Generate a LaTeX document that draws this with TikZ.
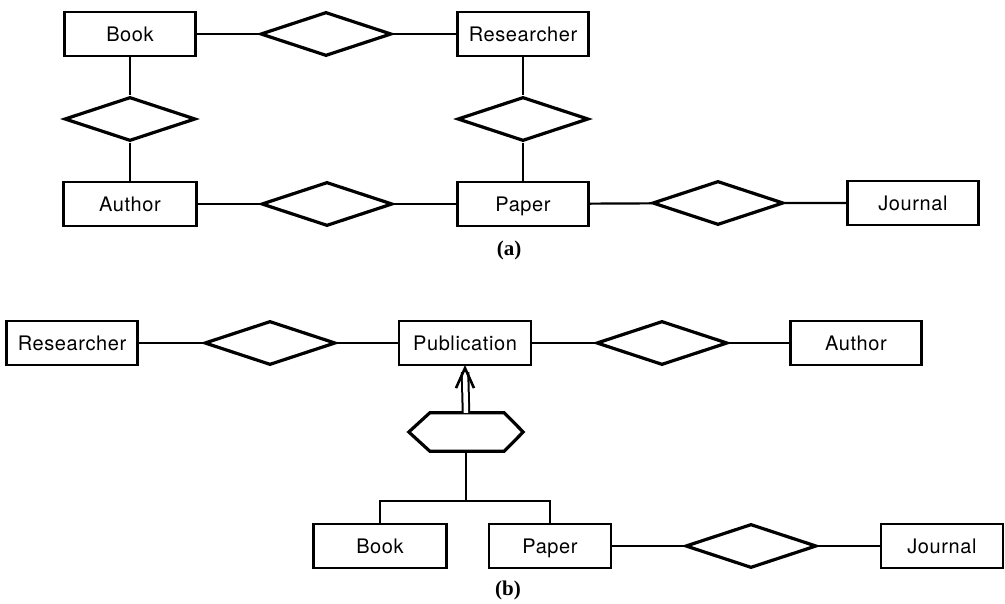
\documentclass[tikz,border=0pt]{standalone}
\usepackage{fontspec}
\setsansfont{TeX Gyre Heros}[LetterSpace=3]
\newfontfamily\capfont{Liberation Serif}
\usetikzlibrary{shapes.geometric}

\begin{document}
\begin{tikzpicture}[x=1pt,y=-1pt,
	entity/.style={draw,line width=2.2pt,minimum width=131pt,minimum height=44pt,inner sep=0pt,
		text height=14.4pt,text depth=0pt,font=\sffamily\fontsize{20}{24}\selectfont},
	rel/.style={draw,diamond,line width=3.2pt,minimum width=131pt,minimum height=44pt,inner sep=0pt},
	link/.style={line width=2.2pt},
	capstyle/.style={font=\capfont\bfseries\fontsize{21}{24}\selectfont},
]
\useasboundingbox (0,0) rectangle (1005,604);

%Part (a)
\node [entity]  (bookA)at (130,34) {Book};
\node [rel]  (relBR)at (326,34) {};
\node [entity]  (resA)at (523,34) {Researcher};

\node [rel]  (relBA)at (130,119) {};
\node [rel]  (relRP)at (523,119) {};

\node [entity, minimum width=133pt]  (authA)at (130,204) {Author};
\node [rel]  (relAP)at (327,204) {};
\node [entity]  (papA)at (523,204) {Paper};
\node [rel]  (relPJ)at (718,203) {};
\node [entity]  (jourA)at (913,203) {Journal};

\draw[link] (bookA) -- (relBR) -- (resA);
\draw[link] (bookA) -- (relBA) -- (authA);
\draw[link] (resA) -- (relRP) -- (papA);
\draw[link] (authA) -- (relAP) -- (papA);
\draw[link] (papA) -- (relPJ) -- (jourA);

\node [capstyle]  (capA)at (509,250) {(a)};


%Part (b)
\node [entity]  (resB)at (72,343) {Researcher};
\node [rel]  (relRPub)at (270,343) {};
\node [entity, minimum width=132pt]  (pub)at (465,343) {Publication};
\node [rel]  (relPubA)at (662,343) {};
\node [entity]  (authB)at (856,343) {Author};

\draw[link] (resB) -- (relRPub) -- (pub);
\draw[link] (pub) -- (relPubA) -- (authB);

%Generalisation hexagon
\node [minimum width=114pt,minimum height=38pt,inner sep=0pt]  (isa)at (466,432) {};
\draw[line width=3.2pt] (isa.west) -- ([xshift=21pt]isa.north west) -- ([xshift=-19pt]isa.north east)
	-- (isa.east) -- ([xshift=-19pt]isa.south east) -- ([xshift=21pt]isa.south west) -- cycle;

\draw[link,line width=2pt,double,double distance=4.5pt] (isa.north) -- ([yshift=-6pt]pub.south);
\draw[link,line width=2.6pt] ([xshift=-9pt,yshift=-22pt]pub.south) -- ([yshift=-2pt]pub.south) -- ([xshift=9pt,yshift=-22pt]pub.south);

%Subclasses
\node [entity, minimum width=133pt]  (bookB)at (380,546) {Book};
\node [entity, minimum width=122pt]  (papB)at (550,546) {Paper};
\node [rel]  (relPJB)at (751,546) {};
\node [entity, minimum width=122pt]  (jourB)at (942,546) {Journal};

\coordinate (fork) at (466,501);
\draw[link] (isa.south) -- (fork);
\draw[link] (bookB.north) |- (fork) -| (papB.north);
\draw[link] (papB) -- (relPJB) -- (jourB);

\node [capstyle]  (capB)at (508,590) {(b)};

\end{tikzpicture}
\end{document}
